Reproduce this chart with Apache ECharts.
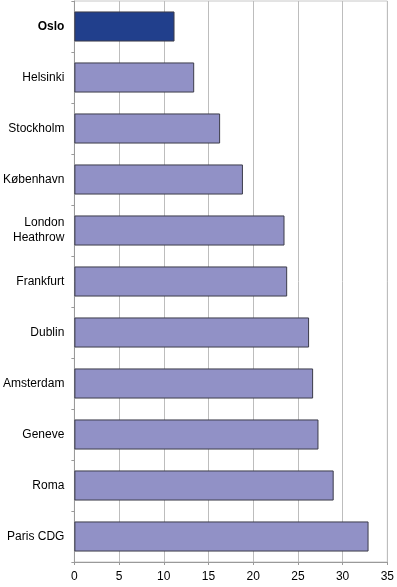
<!DOCTYPE html>
<html><head><meta charset="utf-8">
<script src="https://cdn.jsdelivr.net/npm/echarts@6/dist/echarts.min.js"></script>
<style>html,body{margin:0;padding:0;background:#fff}#c{width:397px;height:587px}</style>
</head><body><div id="c"></div>
<script>
const categories = ["Oslo","Helsinki","Stockholm","København","London\nHeathrow","Frankfurt","Dublin","Amsterdam","Geneve","Roma","Paris CDG"];
const values = [11.2,13.4,16.3,18.85,23.5,23.8,26.25,26.7,27.3,29.0,32.9];
const xTicks = {min:0,max:35,interval:5};
const highlight = "Oslo";

const chart = echarts.init(document.getElementById('c'), null, {renderer:'canvas'});
chart.setOption({
  animation:false,
  grid:{left:73,right:9,top:1,bottom:25,show:true,borderColor:'#c8c8c8',borderWidth:1,containLabel:false},
  xAxis:{type:'value',min:xTicks.min,max:xTicks.max,interval:xTicks.interval,
    axisLine:{show:true,lineStyle:{color:'#9a9a9a'}},
    axisTick:{show:true,length:3,lineStyle:{color:'#9a9a9a'}},
    axisLabel:{color:'#000',fontFamily:'Liberation Sans, Arial',fontSize:12,margin:9},
    splitLine:{show:true,lineStyle:{color:'#bdbdbd',width:1}}},
  yAxis:{type:'category',data:categories,inverse:true,
    axisLine:{show:true,lineStyle:{color:'#9a9a9a'}},
    axisTick:{show:true,length:3,inside:false,alignWithLabel:false,lineStyle:{color:'#9a9a9a'}},
    axisLabel:{color:'#000',fontFamily:'Liberation Sans, Arial',fontSize:12,margin:10,lineHeight:15,
      formatter:function(v){return v===highlight?'{b|'+v+'}':v;},
      rich:{b:{fontWeight:'bold',fontSize:12,fontFamily:'Liberation Sans, Arial',color:'#000'}}},
    splitLine:{show:false}},
  series:[{type:'bar',barWidth:'59%',
    data:values.map((v,i)=>({value:v,itemStyle:{color:categories[i]===highlight?'#213f8c':'#9191c6'}})),
    itemStyle:{borderColor:'#3c3c4a',borderWidth:1}}]
});
</script></body></html>
